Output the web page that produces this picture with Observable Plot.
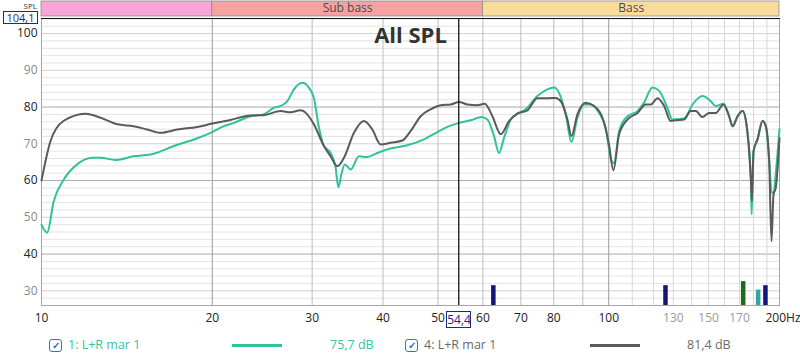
<!DOCTYPE html>
<html><head><meta charset="utf-8">
<script src="https://cdn.jsdelivr.net/npm/d3@7"></script>
<script src="https://cdn.jsdelivr.net/npm/@observablehq/plot@0.6"></script>
<style>
body{margin:0;background:#fff;font-family:"Open Sans",sans-serif;}
#wrap{position:relative;width:800px;height:357px;overflow:hidden;}
.box{position:absolute;border:1px solid #1c2a80;background:#fff;color:#1c2a80;font-size:11px;line-height:11px;text-align:center;box-sizing:border-box;}
.leg{position:absolute;font-size:12.5px;line-height:16px;white-space:nowrap;}
.chk{position:absolute;width:13px;height:13px;border:1.5px solid #2b73d2;border-radius:3px;box-sizing:border-box;color:#2b73d2;font-size:10px;line-height:11px;text-align:center;font-weight:bold;}
.lline{position:absolute;height:3px;}
</style></head><body><div id="wrap"></div>
<script>
// ---- data ----
const freq1 = [10, 10.23, 10.51, 10.95, 11.56, 12.28, 12.71, 13.5, 14.53, 15.78, 17.12, 18.82, 20.0, 20.97, 21.84, 23.37, 24.63, 25.69, 26.4, 27.13, 27.86, 28.82, 29.6, 30.21, 30.84, 31.47, 32.34, 33.0, 33.37, 33.78, 34.24, 35.08, 36.27, 37.53, 39.09, 41.27, 44.16, 47.24, 49.89, 51.95, 54.45, 57.1, 59.64, 61.1, 62.77, 64.06, 65.37, 67.18, 69.02, 71.38, 74.85, 77.95, 80.07, 81.71, 83.98, 85.94, 88.06, 90.45, 92.95, 96.14, 98.79, 101.1, 102.2, 104.3, 107.9, 112.4, 115.4, 119.4, 122.7, 126.9, 129.5, 135.8, 140.5, 146.3, 151.3, 154.4, 159.3, 163.0, 165.3, 168.7, 172.2, 175.2, 178.1, 178.6, 180.0, 182.9, 186.7, 189.2, 191.8, 193.6, 195.2, 197.0, 200];
const spl1 = [48.0, 45.8, 54.4, 60.3, 64.4, 66.2, 66.2, 65.6, 66.6, 67.3, 69.4, 71.5, 73.2, 74.8, 75.7, 77.5, 78.0, 79.8, 80.3, 81.6, 84.8, 86.6, 85.3, 82.5, 74.4, 69.4, 67.5, 63.5, 58.2, 61.7, 64.4, 63.0, 66.6, 66.4, 67.5, 68.7, 69.6, 71.2, 73.2, 74.6, 75.7, 76.4, 77.3, 76.6, 72.1, 67.5, 71.6, 76.6, 78.2, 79.4, 83.0, 84.8, 85.3, 83.9, 78.0, 70.5, 77.1, 80.7, 80.7, 78.4, 74.4, 65.3, 64.8, 73.5, 77.5, 78.9, 81.2, 85.3, 84.4, 79.8, 76.6, 76.9, 80.7, 83.0, 81.6, 80.3, 80.9, 77.5, 74.8, 77.5, 78.9, 74.4, 60.0, 50.8, 68.0, 71.2, 76.2, 74.8, 65.3, 57.0, 56.5, 62.0, 74.0];
const freq4 = [10, 10.37, 10.93, 11.96, 12.71, 13.6, 14.53, 15.36, 16.22, 17.35, 18.82, 20, 21.54, 23.37, 24.63, 26.4, 27.49, 28.62, 29.41, 30.21, 31.47, 32.34, 33.23, 34.14, 35.55, 37.02, 38.3, 39.62, 41.27, 43.28, 44.76, 46.61, 48.55, 50.57, 52.66, 54.45, 56.34, 58.67, 60.44, 62.36, 64.5, 66.72, 69.02, 71.88, 74.85, 77.95, 80.63, 82.28, 84.56, 85.94, 88.06, 91.08, 94.21, 97.48, 100.1, 101.9, 104.3, 107.9, 112.4, 116.2, 118.6, 121.9, 125.2, 128.6, 131.3, 135.8, 139.5, 142.4, 146.3, 150.3, 154.4, 159.3, 163.0, 165.3, 168.7, 172.2, 175.2, 178.1, 178.8, 180.0, 182.9, 186.7, 189.2, 191.8, 193.6, 195.2, 197.0, 200];
const spl4 = [60.0, 70.7, 76.2, 78.2, 77.1, 75.3, 74.8, 73.9, 73.0, 73.9, 74.6, 75.5, 76.5, 77.7, 77.8, 78.9, 78.6, 79.1, 78.0, 75.3, 69.4, 66.6, 63.9, 66.2, 73.0, 76.2, 73.9, 69.8, 70.3, 70.9, 73.5, 77.5, 79.4, 80.5, 80.7, 81.4, 80.7, 80.5, 80.9, 77.5, 72.6, 76.2, 78.2, 79.1, 82.4, 82.4, 82.5, 81.6, 76.6, 72.1, 78.0, 81.2, 80.3, 77.1, 69.8, 62.8, 72.6, 76.6, 78.4, 80.7, 80.7, 82.4, 80.3, 76.2, 76.4, 76.6, 78.9, 78.9, 77.3, 78.4, 78.4, 80.7, 77.5, 74.8, 77.5, 78.9, 74.4, 59.8, 54.4, 68.0, 71.2, 76.2, 74.8, 65.3, 43.5, 56.2, 58.0, 71.5];

const bandNames = ["", "Sub bass", "Bass"];
const bandStart = [10, 20, 60];
const bandEnd = [20, 60, 200];
const bandColors = ["#f7a6d6", "#f4a3a0", "#f9dc9c"];

const markerFreq = [62.6, 125.9, 172.6, 183.4, 188.9];
const markerLevel = [31.4, 31.4, 32.5, 30.2, 31.4];
const markerColors = ["#14147a", "#14147a", "#1e6a1e", "#35a3a6", "#14147a"];

const yTicksDark = [40, 60, 80, 100];
const yTicksGray = [30, 50, 70, 90];
const xTicksDark = [10, 20, 30, 40, 50, 60, 70, 80, 90, 100];
const xTicksGray = [130, 150, 170];
const xTickLast = [200];

const cursorFreq = 54.4;
const cursorLevel = 104.1;
const yMin = 26;
const title = "All SPL";
const seriesNames = ["1: L+R mar 1", "4: L+R mar 1"];
const seriesValues = ["75,7 dB", "81,4 dB"];
const seriesColors = ["#2fc29d", "#595b5b"];
const seriesTextColors = ["#3cc09f", "#6a6a6a"];

// ---- build ----
const s1 = freq1.map((f, i) => ({f, v: spl1[i]}));
const s4 = freq4.map((f, i) => ({f, v: spl4[i]}));
const bands = bandNames.map((n, i) => ({name: n, a: bandStart[i], b: bandEnd[i], c: bandColors[i], mid: Math.sqrt(bandStart[i] * bandEnd[i])}));
const markers = markerFreq.map((f, i) => ({f, v: markerLevel[i], c: markerColors[i]}));

const minorY = d3.range(28, 104.1, 2).filter(d => d % 10 !== 0);
const minorX = d3.range(110, 200, 10);
const midX = [30, 40, 50, 60, 70, 80, 90];
const W = 800, H = 326, mT = 18, mB = 21, mL = 41, mR = 21;
const frameH = H - mT - mB;

const fontFam = "Open Sans, sans-serif";
const chart = Plot.plot({
  width: W, height: H,
  marginTop: mT, marginBottom: mB, marginLeft: mL, marginRight: mR,
  style: {fontFamily: fontFam, fontSize: "12px", overflow: "visible", background: "#fff"},
  x: {type: "log", domain: [10, 200], axis: null},
  y: {domain: [yMin, cursorLevel], axis: null},
  marks: [
    Plot.ruleY(minorY, {stroke: "#e4e4e4", strokeWidth: 1}),
    Plot.ruleY(yTicksGray.concat([100]), {stroke: "#d0d0d0", strokeWidth: 1}),
    Plot.ruleY([40, 60, 80], {stroke: "#a9a9a9", strokeWidth: 1}),
    Plot.ruleX(minorX, {stroke: "#d6d6d6", strokeWidth: 1}),
    Plot.ruleX(midX, {stroke: "#bdbdbd", strokeWidth: 1}),
    Plot.ruleX([20, 100], {stroke: "#9a9a9a", strokeWidth: 1}),
    Plot.frame({stroke: "#a6a6a6"}),
    Plot.frame({anchor: "top", stroke: "#111", strokeWidth: 1.2}),
    Plot.rect(bands, {x1: "a", x2: "b", fill: "c", stroke: "#8c8c8c", strokeWidth: 0.8, insetTop: -mT + 1, insetBottom: frameH + 2}),
    Plot.text(bands, {x: "mid", text: "name", frameAnchor: "top", lineAnchor: "middle", dy: -10, fill: "#4a4a4a", fontSize: 12}),
    Plot.text([title], {frameAnchor: "top", lineAnchor: "middle", dy: 17, fontSize: 22, fontWeight: "bold", fill: "#333"}),
    Plot.text(["SPL"], {frameAnchor: "top-left", lineAnchor: "middle", dx: -18, dy: -12.5, fontSize: 8, fill: "#333"}),
    Plot.line(s1, {x: "f", y: "v", stroke: seriesColors[0], strokeWidth: 2, curve: "monotone-x"}),
    Plot.line(s4, {x: "f", y: "v", stroke: seriesColors[1], strokeWidth: 2, curve: "monotone-x"}),
    Plot.ruleX([cursorFreq], {stroke: "#000", strokeWidth: 1.2}),
    Plot.ruleX(markers, {x: "f", y1: yMin, y2: "v", stroke: "c", strokeWidth: 4.5}),
    Plot.axisY(yTicksDark, {tickSize: 0, tickPadding: 4, fill: "#222", label: null, fontSize: 12}),
    Plot.axisY(yTicksGray, {tickSize: 0, tickPadding: 4, fill: "#8a8a8a", label: null, fontSize: 12}),
    Plot.axisX(xTicksDark, {tickSize: 0, tickPadding: 8, fill: "#222", label: null, fontSize: 12, tickFormat: d => String(d)}),
    Plot.axisX(xTicksGray, {tickSize: 0, tickPadding: 8, fill: "#9a9a9a", label: null, fontSize: 12, tickFormat: d => String(d)}),
    Plot.axisX(xTickLast, {tickSize: 0, tickPadding: 8, fill: "#222", label: null, fontSize: 12, textAnchor: "start", dx: -14, tickFormat: d => d + "Hz"})
  ]
});
const wrap = document.getElementById("wrap");
chart.style.position = "absolute";
chart.style.left = "0px";
chart.style.top = "0px";
wrap.appendChild(chart);

const xs = chart.scale("x");
// cursor value boxes
const bx = document.createElement("div");
bx.className = "box";
bx.textContent = String(cursorLevel).replace(".", ",");
Object.assign(bx.style, {left: "3px", top: "11px", width: "35px", height: "13px"});
wrap.appendChild(bx);
const cx = xs.apply(cursorFreq);
const bf = document.createElement("div");
bf.className = "box";
bf.textContent = String(cursorFreq).replace(".", ",");
Object.assign(bf.style, {left: (cx - 12) + "px", top: "311px", width: "25px", height: "17px", fontSize: "12px"});
bf.style.lineHeight = "15px";
wrap.appendChild(bf);

// legend
const legX = [[49, 68, 232, 330], [405, 424, 590, 687]];
seriesNames.forEach((n, i) => {
  const [c0, t0, l0, v0] = legX[i];
  const ck = document.createElement("div");
  ck.className = "chk"; ck.textContent = "\u2713";
  Object.assign(ck.style, {left: c0 + "px", top: "339px"});
  wrap.appendChild(ck);
  const t = document.createElement("div");
  t.className = "leg"; t.textContent = n;
  Object.assign(t.style, {left: t0 + "px", top: "337px", color: seriesTextColors[i]});
  wrap.appendChild(t);
  const ln = document.createElement("div");
  ln.className = "lline";
  Object.assign(ln.style, {left: l0 + "px", top: "344px", width: "50px", background: seriesColors[i]});
  wrap.appendChild(ln);
  const v = document.createElement("div");
  v.className = "leg"; v.textContent = seriesValues[i];
  Object.assign(v.style, {left: v0 + "px", top: "337px", color: seriesTextColors[i]});
  wrap.appendChild(v);
});
</script></body></html>
